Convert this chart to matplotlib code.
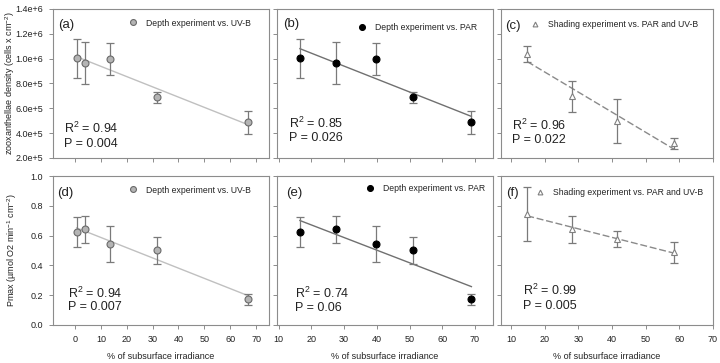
import matplotlib
matplotlib.use("Agg")
import matplotlib.pyplot as plt
from matplotlib.ticker import FuncFormatter
import numpy as np

plt.rcParams['font.family'] = ['Liberation Sans', 'DejaVu Sans']
plt.rcParams['mathtext.fontset'] = 'custom'
plt.rcParams['mathtext.rm'] = 'Liberation Sans'
plt.rcParams['mathtext.it'] = 'Liberation Sans:italic'

# % of subsurface irradiance for each experiment
x_uvb = [0.6, 3.9, 13.6, 31.7, 66.7]
x_par = [16.5, 27.4, 39.6, 51.2, 68.9]
x_shade = [14.8, 28.2, 41.5, 58.4]

# zooxanthellae density (cells x cm-2)
dens_depth = [1.005e6, 0.965e6, 0.997e6, 0.688e6, 0.487e6]
dens_depth_err = [0.157e6, 0.172e6, 0.130e6, 0.043e6, 0.092e6]
dens_shade = [1.038e6, 0.696e6, 0.500e6, 0.318e6]
dens_shade_err = [0.063e6, 0.128e6, 0.176e6, 0.042e6]

# Pmax (umol O2 min-1 cm-2)
pmax_depth = [0.622, 0.642, 0.544, 0.501, 0.172]
pmax_depth_err = [0.101, 0.091, 0.120, 0.090, 0.039]
pmax_shade = [0.743, 0.642, 0.577, 0.488]
pmax_shade_err = [0.182, 0.090, 0.052, 0.072]

stats = [("0.94", "0.004"), ("0.85", "0.026"), ("0.96", "0.022"),
         ("0.94", "0.007"), ("0.74", "0.06"), ("0.99", "0.005")]
letters = ["(a)", "(b)", "(c)", "(d)", "(e)", "(f)"]
legend_txt = ["Depth experiment vs. UV-B", "Depth experiment vs. PAR",
              "Shading experiment vs. PAR and UV-B"] * 2

W, H = 720, 363
fig = plt.figure(figsize=(W / 100, H / 100), dpi=100)

lefts = [53, 277, 501]
widths = [216, 216, 212]
tops = [9, 176]
ah = 149

styles = [
    dict(marker='o', mfc='#b4b4b4', mec='#6a6a6a', ms=5, line='#c0c0c0', ls='-'),
    dict(marker='o', mfc='black', mec='black', ms=5, line='#707070', ls='-'),
    dict(marker='^', mfc='white', mec='#808080', ms=4.6, line='#8a8a8a', ls=(0, (5, 2))),
]
xlims = [(-8.5, 75), (9.5, 75.5), (7, 70)]
xticks = [np.arange(0, 71, 10), np.arange(10, 71, 10), np.arange(10, 71, 10)]

stat_pos = [(0.051, 0.20, 0.094), (0.056, 0.235, 0.134), (0.052, 0.22, 0.12),
            (0.07, 0.215, 0.12), (0.083, 0.21, 0.114), (0.104, 0.235, 0.128)]
letter_pos = [(0.025, 0.893), (0.028, 0.9), (0.02, 0.886),
              (0.02, 0.886), (0.04, 0.886), (0.024, 0.886)]
leg_pos = [(0.915, 0.906), (0.926, 0.879), (0.929, 0.899),
           (0.915, 0.906), (0.963, 0.913), (0.953, 0.886)]


def sci(v, pos):
    m, e = f"{v:.1e}".split("e")
    return f"{m}e+{int(e)}"


xs = [x_uvb, x_par, x_shade]
ys = [dens_depth, dens_depth, dens_shade, pmax_depth, pmax_depth, pmax_shade]
es = [dens_depth_err, dens_depth_err, dens_shade_err,
      pmax_depth_err, pmax_depth_err, pmax_shade_err]

txt_col = '#222222'
frame_col = '#8c8c8c'

for i in range(6):
    r, c = divmod(i, 3)
    ax = fig.add_axes([lefts[c] / W, (H - tops[r] - ah) / H, widths[c] / W, ah / H])
    st = styles[c]
    x = np.array(xs[c])
    y = np.array(ys[i])

    # regression line
    k, b = np.polyfit(x, y, 1)
    xl = np.array([x.min(), x.max()])
    ax.plot(xl, k * xl + b, color=st['line'], ls=st['ls'], lw=1, zorder=1)

    ax.errorbar(x, y, yerr=es[i], fmt='none', ecolor='#7a7a7a', elinewidth=0.9,
                capsize=3, capthick=0.9, zorder=2)
    ax.plot(x, y, ls='none', marker=st['marker'], mfc=st['mfc'], mec=st['mec'],
            ms=st['ms'], mew=0.8, zorder=3, label=legend_txt[i])

    ax.set_xlim(*xlims[c])
    ax.set_xticks(xticks[c])
    if r == 0:
        ax.set_ylim(2e5, 1.4e6)
        ax.set_yticks(np.arange(2e5, 1.41e6, 2e5))
        ax.yaxis.set_major_formatter(FuncFormatter(sci))
        ax.tick_params(axis='x', labelbottom=False)
    else:
        ax.set_ylim(0, 1.0)
        ax.set_yticks(np.arange(0, 1.01, 0.2))
        ax.yaxis.set_major_formatter(FuncFormatter(lambda v, p: f"{v:.1f}"))
        ax.set_xlabel("% of subsurface irradiance", fontsize=6.5, color=txt_col, labelpad=6)
    if c > 0:
        ax.tick_params(axis='y', labelleft=False)

    ax.tick_params(direction='out', length=3, width=0.7, color=frame_col,
                   labelsize=6.5, labelcolor=txt_col, pad=4)
    for sp in ax.spines.values():
        sp.set_color(frame_col)
        sp.set_linewidth(0.8)

    sx, sy1, sy2 = stat_pos[i]
    ax.text(sx, sy1, "R$^2$ = " + stats[i][0], transform=ax.transAxes,
            fontsize=9, color=txt_col, va='center')
    ax.text(sx, sy2, "P = " + stats[i][1], transform=ax.transAxes,
            fontsize=9, color=txt_col, va='center')
    lx, ly = letter_pos[i]
    ax.text(lx, ly, letters[i], transform=ax.transAxes, fontsize=9.5,
            color=txt_col, va='center')

    leg = ax.legend(loc='center right', bbox_to_anchor=leg_pos[i], frameon=False,
                    fontsize=6.2, handlelength=1.0, handletextpad=1.0,
                    borderpad=0, borderaxespad=0, markerscale=0.85 if c < 2 else 0.75)
    for t in leg.get_texts():
        t.set_color(txt_col)

fig.text(10 / W, (H - 83) / H, "zooxanthellae density (cells x cm$^{-2}$)",
         rotation=90, ha='center', va='center', fontsize=6.5, color=txt_col)
fig.text(12 / W, (H - 250) / H, "Pmax (µmol O2 min$^{-1}$ cm$^{-2}$)",
         rotation=90, ha='center', va='center', fontsize=6.5, color=txt_col)

fig.savefig("out.png", dpi=100)
